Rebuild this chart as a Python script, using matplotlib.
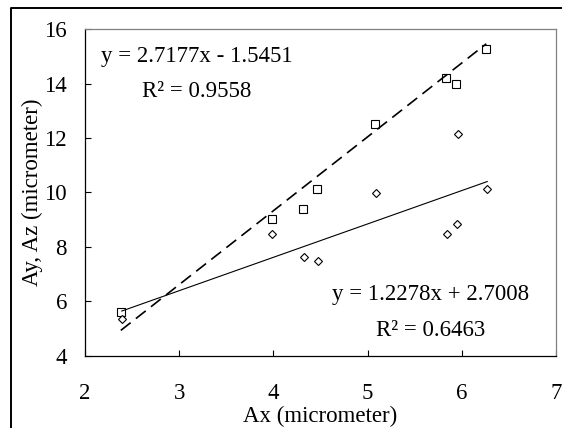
"""
plot.py

Ay, Az vs Ax scatter with linear trendlines
"""

import numpy as np
import matplotlib
matplotlib.use("Agg")
import matplotlib.pyplot as plt
from matplotlib.lines import Line2D


# ==========================
# 1. Data
# ==========================

ax_sq = [2.38, 3.98, 4.31, 4.46, 5.08, 5.83, 5.94, 6.26]
ay_sq = [5.60, 9.03, 9.39, 10.13, 12.51, 14.21, 13.98, 15.27]

ax_dm = [2.39, 3.99, 4.32, 4.47, 5.09, 5.96, 5.84, 5.95, 6.27]
az_dm = [5.36, 8.48, 7.64, 7.49, 9.96, 12.15, 8.47, 8.84, 10.14]

# trendline coefficients (slope, intercept) and R^2
fit_sq = (2.7177, -1.5451)
r2_sq = 0.9558
fit_dm = (1.2278, 2.7008)
r2_dm = 0.6463

x_ticks = [2, 3, 4, 5, 6, 7]
y_ticks = [4, 6, 8, 10, 12, 14, 16]


# ==========================
# 2. Style
# ==========================

plt.rcParams["font.family"] = ["Liberation Serif", "DejaVu Serif"]
FS = 16.5

fig = plt.figure(figsize=(5.62, 4.28), dpi=100)
ax = fig.add_axes([85 / 562, 1 - 355.5 / 428, 471 / 562, 326.2 / 428])


# ==========================
# 3. Points and trendlines
# ==========================

ax.plot(ax_sq, ay_sq, linestyle="none", marker="s", markersize=5.2,
        markerfacecolor="white", markeredgecolor="black", markeredgewidth=0.8)
ax.plot(ax_dm, az_dm, linestyle="none", marker="D", markersize=3.8,
        markerfacecolor="white", markeredgecolor="black", markeredgewidth=0.8)

xs = np.array([min(ax_sq), max(ax_sq)])
ax.plot(xs, fit_sq[0] * xs + fit_sq[1], color="black", linewidth=1.2,
        linestyle=(0, (7.5, 4)))

xd = np.array([min(ax_dm), max(ax_dm)])
ax.plot(xd, fit_dm[0] * xd + fit_dm[1], color="black", linewidth=0.8)


# ==========================
# 4. Equations
# ==========================

ax.text(0.2367, 0.916, f"y = {fit_sq[0]:.4f}x - {abs(fit_sq[1]):.4f}",
        transform=ax.transAxes, ha="center", va="center", fontsize=FS)
ax.text(0.2367, 0.809, f"R² = {r2_sq:.4f}",
        transform=ax.transAxes, ha="center", va="center", fontsize=FS)

ax.text(0.7346, 0.1855, f"y = {fit_dm[0]:.4f}x + {fit_dm[1]:.4f}",
        transform=ax.transAxes, ha="center", va="center", fontsize=FS)
ax.text(0.7346, 0.078, f"R² = {r2_dm:.4f}",
        transform=ax.transAxes, ha="center", va="center", fontsize=FS)


# ==========================
# 5. Axes
# ==========================

ax.set_xlim(2, 7)
ax.set_ylim(4, 16)
ax.set_xticks(x_ticks)
ax.set_yticks(y_ticks)

ax.tick_params(axis="x", direction="in", length=4.5, width=0.8,
               pad=20, labelsize=FS)
ax.tick_params(axis="y", direction="in", length=4.5, width=0.8,
               pad=13, labelsize=FS)

ax.set_xlabel("Ax (micrometer)", fontsize=FS, labelpad=1.5)
ax.set_ylabel("Ay, Az (micrometer)", fontsize=FS, labelpad=1)

for side in ["left", "bottom"]:
    ax.spines[side].set_color("black")
    ax.spines[side].set_linewidth(0.9)
for side in ["top", "right"]:
    ax.spines[side].set_color("#808080")
    ax.spines[side].set_linewidth(0.9)

# outer chart frame
bx = 11 / 562
by = 1 - 8.3 / 428
fig.add_artist(Line2D([bx, bx, 1.0], [0.0, by, by], transform=fig.transFigure,
                      color="black", linewidth=1.4))

fig.savefig("out.png", dpi=100)
